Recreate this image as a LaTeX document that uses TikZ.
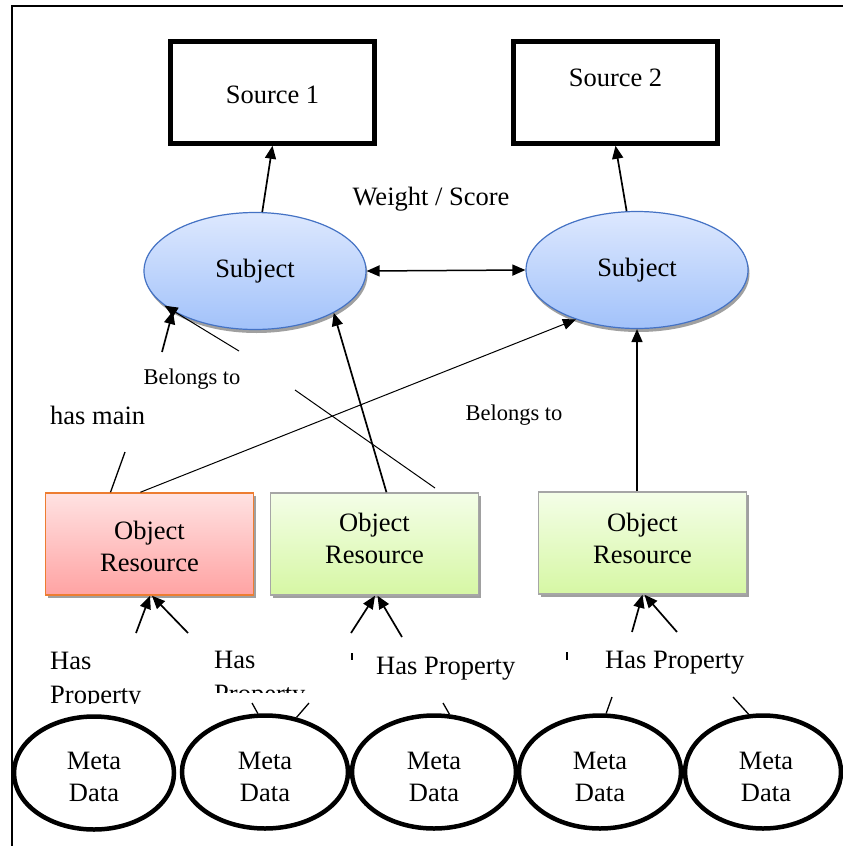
\documentclass[tikz,border=0pt]{standalone}
\usepackage{fontspec}
\setmainfont{Liberation Serif}
\usetikzlibrary{arrows.meta,shadows,shapes.geometric}
\definecolor{subtop}{HTML}{DDE8FE}
\definecolor{subbot}{HTML}{A2C2FA}
\definecolor{subborder}{HTML}{4472C4}
\definecolor{redtop}{HTML}{FFE2E2}
\definecolor{redbot}{HTML}{FFA3A3}
\definecolor{redborder}{HTML}{ED7D31}
\definecolor{greentop}{HTML}{F4FEE8}
\definecolor{greenbot}{HTML}{D6F7A4}
\definecolor{greenborder}{HTML}{A6A6A6}
\definecolor{shadowgray}{HTML}{A0A0A0}
\begin{document}
\begin{tikzpicture}[x=1pt,y=-1pt,
  txt/.style={font=\fontsize{26.5}{32}\selectfont, inner sep=0pt},
  smalltxt/.style={font=\fontsize{22.5}{28}\selectfont, inner sep=0pt},
  srcbox/.style={draw, line width=4.5pt, minimum width=204pt, minimum height=102pt, inner sep=0pt},
  subj/.style={ellipse, draw=subborder, line width=1.2pt, top color=subtop, bottom color=subbot, minimum width=222pt, minimum height=117pt, inner sep=0pt, font=\fontsize{26.5}{32}\selectfont, drop shadow={shadow xshift=1.5pt, shadow yshift=-3.5pt, fill=shadowgray, opacity=1}},
  objbox/.style={rectangle, line width=1.5pt, minimum width=208pt, minimum height=102pt, inner sep=0pt, drop shadow={shadow xshift=2.5pt, shadow yshift=-3pt, fill=shadowgray, opacity=1}},
  redbox/.style={objbox, draw=redborder, top color=redtop, bottom color=redbot},
  greenbox/.style={objbox, draw=greenborder, top color=greentop, bottom color=greenbot},
  meta/.style={ellipse, draw, line width=4.5pt, minimum height=113pt, inner sep=0pt},
  arr/.style={-{Triangle[length=13pt,width=11pt]}, line width=1.7pt},
  thinarr/.style={-{Triangle[length=13pt,width=11pt]}, line width=1pt},
  plainline/.style={line width=1.3pt},
  thinline/.style={line width=1pt},
]
\useasboundingbox (0,0) rectangle (843,846);
\fill[white] (0,0) rectangle (843,846);
% frame
\coordinate (fbl) at (12,850);
\coordinate (ftl) at (12,6);
\coordinate (ftr) at (846,6);
\draw[line width=2pt] (fbl) -- (ftl) -- (ftr);

% sources
\node[srcbox] (src1) at (272.5,92.5) {};
\node[txt] (src1t) at (272.5,95) {Source 1};
\node[srcbox] (src2) at (615.5,92.5) {};
\node[txt] (src2t) at (615.5,78) {Source 2};

% subjects
\node[subj] (s1) at (255,271) {Subject};
\node[subj] (s2) at (637,270) {Subject};
\node[txt] (ws) at (431,199) {Weight / Score};

% object resources
\node[redbox] (o1) at (149.5,544) {};
\node[txt, align=center] (o1t) at (149.5,546) {Object\\Resource};
\node[greenbox] (o2) at (374.5,544) {};
\node[txt, align=center] (o2t) at (374.5,538) {Object\\Resource};
\node[greenbox] (o3) at (642.5,543) {};
\node[txt, align=center] (o3t) at (642.5,538) {Object\\Resource};

% labels
\node[smalltxt] (bel1) at (192,379) {Belongs to};
\node[smalltxt] (bel2) at (514,415) {Belongs to};
\node[txt, anchor=base west] (hasmain) at (50,424) {has main};

% has property labels
\node[txt, anchor=base west] (hp1a) at (50,669) {Has};
\begin{scope}
\clip (40,680) rectangle (200,703);
\node[txt, anchor=base west] (hp1b) at (50,703) {Property};
\end{scope}
\node[txt, anchor=base west] (hp2a) at (214,668) {Has};
\begin{scope}
\clip (205,675) rectangle (330,692);
\node[txt, anchor=base west] (hp2b) at (214,702) {Property};
\end{scope}
\node[txt, anchor=base west] (hp3) at (376,674) {Has Property};
\node[txt, anchor=base west] (hp4) at (605,668) {Has Property};

% meta data ellipses
\node[meta, minimum width=160pt] (m1) at (94,773) {};
\node[meta, minimum width=166pt] (m2) at (265,772) {};
\node[meta, minimum width=164pt] (m3) at (434,772) {};
\node[meta, minimum width=162pt] (m4) at (600,772) {};
\node[meta, minimum width=156pt] (m5) at (763,772) {};
\node[txt, align=center] (m1t) at (94,777) {Meta\\Data};
\node[txt, align=center] (m2t) at (265,777) {Meta\\Data};
\node[txt, align=center] (m3t) at (434,777) {Meta\\Data};
\node[txt, align=center] (m4t) at (600,777) {Meta\\Data};
\node[txt, align=center] (m5t) at (766,777) {Meta\\Data};

% connectors top
\draw[arr] (s1.83) -- (src1.south);
\draw[arr] (s2.100) -- (src2.south);
\draw[{Triangle[length=13pt,width=11pt]}-{Triangle[length=13pt,width=11pt]}, line width=1.5pt] (s1.east) -- (s2.west);

% object to subject
\draw[thinarr] (o1.100) -- (s2.219);
\draw[arr] (o2.77) -- (s1.332);
\draw[arr] (o3.north -| s2.south) -- (s2.south);

% broken belongs-to line
\coordinate (bA) at (435,488);
\coordinate (bB) at (295,390);
\coordinate (bC) at (239,351);
\coordinate (bD) at (162,352);
\draw[thinline] (bA) -- (bB);
\draw[thinarr] (bC) -- (s1.201);
\draw[arr] (bD) -- (s1.206);

% has main line
\coordinate (hmE) at (125,452);
\draw[plainline] (o1.127) -- (hmE);

% has property arrows
\coordinate (p1a) at (136,633);
\coordinate (p1b) at (188,633);
\coordinate (p2a) at (351,633);
\coordinate (p2b) at (402,637);
\coordinate (p3a) at (632,632);
\coordinate (p3b) at (677,632);
\draw[arr] (p1a) -- ([xshift=0.5pt]o1.south);
\draw[arr] (p1b) -- ([xshift=2.5pt]o1.south);
\draw[arr] (p2a) -- ([xshift=0.5pt]o2.south);
\draw[arr] (p2b) -- ([xshift=3pt]o2.south);
\draw[arr] (p3a) -- (o3.south);
\draw[arr] (p3b) -- ([xshift=2pt]o3.south);

% small ticks
\coordinate (t1a) at (352,653);
\coordinate (t1b) at (352,660);
\coordinate (t2a) at (567,652);
\coordinate (t2b) at (567,660);
\draw[plainline] (t1a) -- (t1b);
\draw[plainline] (t2a) -- (t2b);

% stubs to meta ellipses
\coordinate (q2a) at (252,703);
\coordinate (q2b) at (309,703);
\coordinate (q3a) at (443,703);
\coordinate (q4a) at (612,697);
\coordinate (q5a) at (733,697);
\draw[plainline] (q2a) -- (m2.97);
\draw[plainline] (q2b) -- (m2.60);
\draw[plainline] (q3a) -- (m3.75);
\draw[plainline] (q4a) -- (m4.84);
\draw[plainline] (q5a) -- (m5.104);
\end{tikzpicture}
\end{document}
